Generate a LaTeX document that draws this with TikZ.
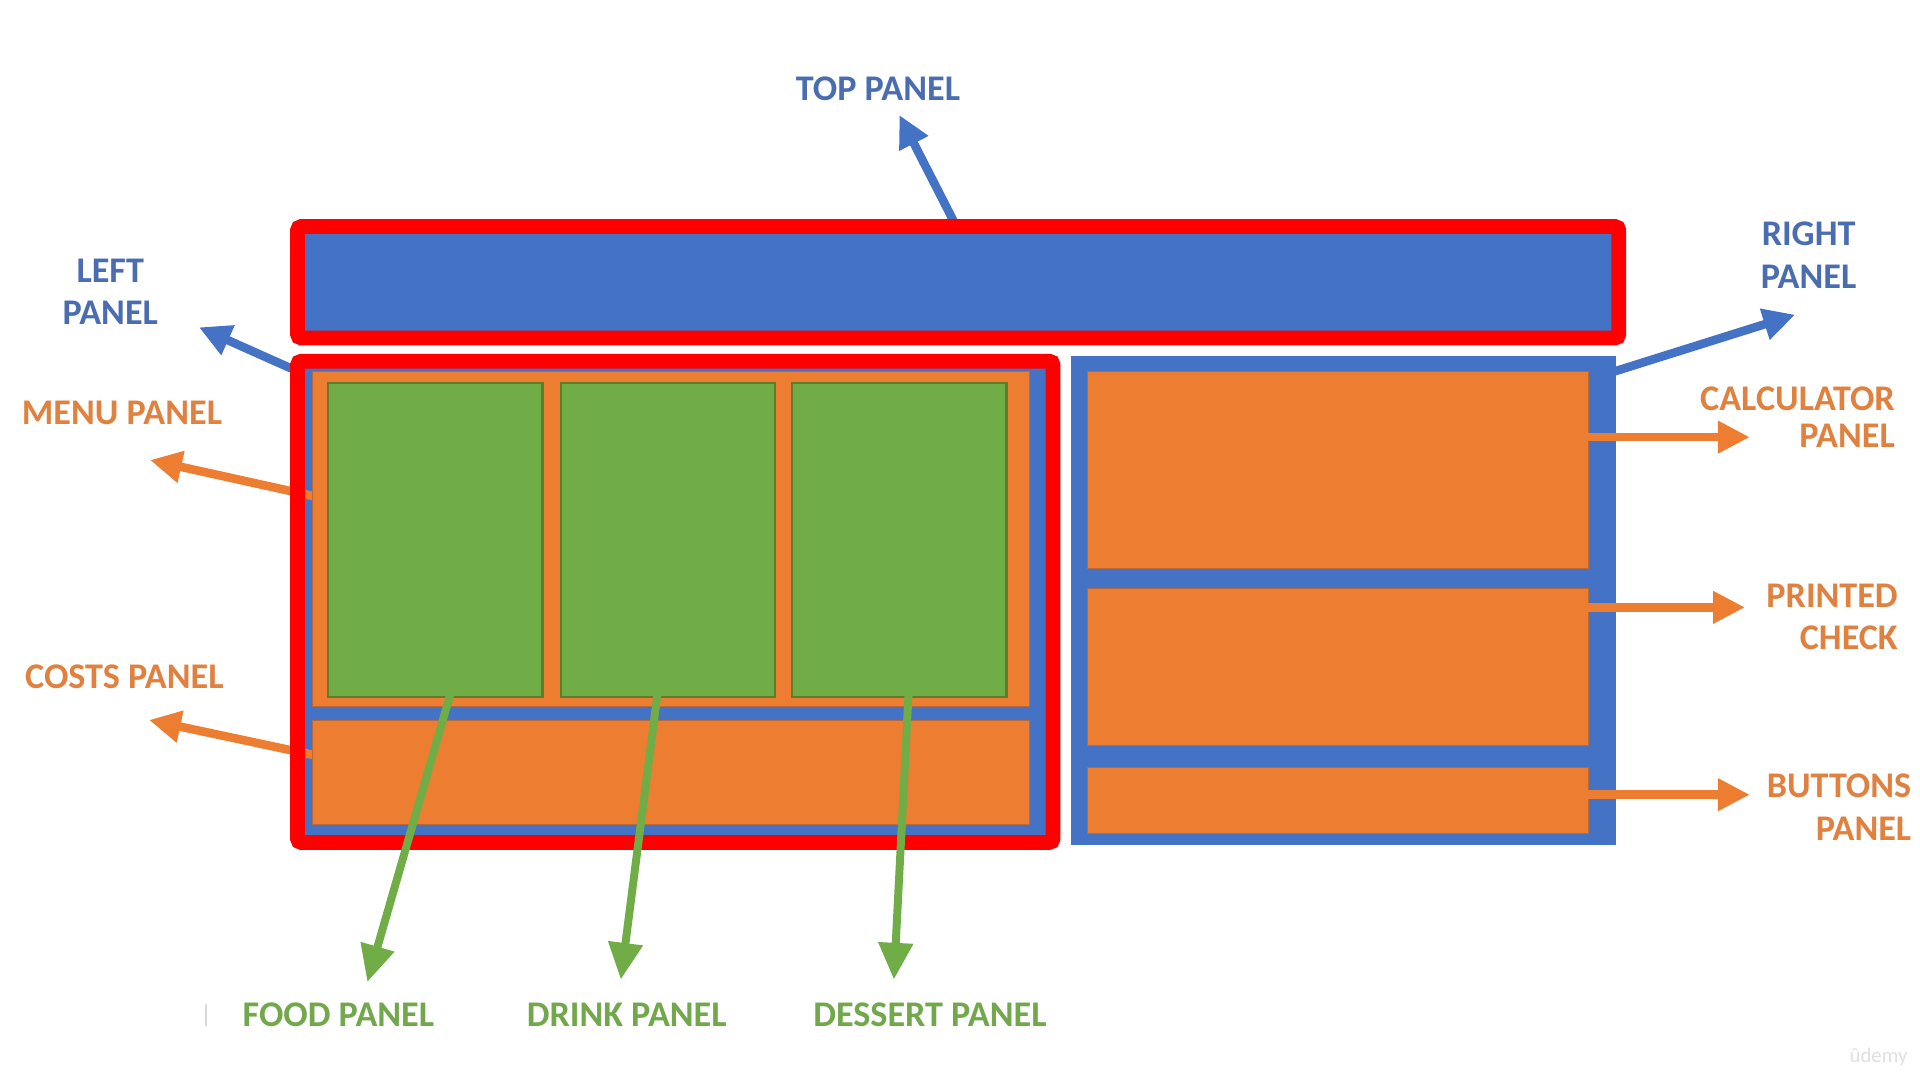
\documentclass[tikz,border=0pt]{standalone}
\usepackage{fontspec}
\setmainfont{Carlito}
\usetikzlibrary{arrows.meta}
\definecolor{pblue}{HTML}{4472C4}
\definecolor{porange}{HTML}{ED7D31}
\definecolor{pgreen}{HTML}{70AD47}
\definecolor{pred}{HTML}{FF0000}
\definecolor{tblue}{HTML}{4A6DB2}
\definecolor{torange}{HTML}{E0813F}
\definecolor{tgreen}{HTML}{72A84C}
\definecolor{gborder}{HTML}{5F7E2C}
\definecolor{oborder}{HTML}{B8693C}
\tikzset{
  lbl/.style={font=\fontsize{29.5}{35}\selectfont\bfseries, inner sep=0pt},
  redframe/.style={draw=pred, line width=12pt, rounded corners=3pt},
  opanel/.style={draw=oborder, line width=0.8pt, fill=porange},
  gpanel/.style={draw=gborder, line width=1.8pt, fill=pgreen},
  barrow/.style={draw=pblue, line width=7pt, -{Triangle[length=26pt,width=25pt]}},
  oarrow/.style={draw=porange, line width=7pt, -{Triangle[length=26pt,width=25pt]}},
  garrow/.style={draw=pgreen, line width=6.5pt, -{Triangle[length=30pt,width=27pt]}}
}
\begin{document}
\begin{tikzpicture}[x=1pt,y=-1pt]
\useasboundingbox (0,0) rectangle (1568,882);
\fill[white] (0,0) rectangle (1568,882);

% coordinates for connectors
\coordinate (topS) at (778.5,180);
\coordinate (topT) at (734.5,94);
\coordinate (leftS) at (238,301);
\coordinate (leftT) at (162.5,267.3);
\coordinate (rightS) at (1318,303.5);
\coordinate (rightT) at (1466,257);
\coordinate (menuS) at (258,405.6);
\coordinate (menuT) at (122.5,375.7);
\coordinate (costS) at (256,616.6);
\coordinate (costT) at (121.7,588);
\coordinate (calcS) at (1296,357);
\coordinate (calcT) at (1429,357);
\coordinate (prS) at (1296,496);
\coordinate (prT) at (1425,496);
\coordinate (btS) at (1296,649);
\coordinate (btT) at (1429,649);
\coordinate (foodS) at (368,566);
\coordinate (foodT) at (300,802);
\coordinate (drinkS) at (537,566);
\coordinate (drinkT) at (507,800);
\coordinate (dessS) at (742,566);
\coordinate (dessT) at (730,800);

% top panel
\fill[pblue] (243,185) rectangle (1322,276);
\draw[barrow] (topS) -- (topT);
\draw[redframe] (243,185) rectangle (1322,276);

% left panel
\fill[pblue] (243,295) rectangle (860,688);
\draw[barrow] (leftS) -- (leftT);
\draw[oarrow] (menuS) -- (menuT);
\draw[oarrow] (costS) -- (costT);
\draw[redframe] (243,295) rectangle (860,688);
\draw[opanel] (255,303) rectangle (841,577);
\draw[gpanel] (268,313) rectangle (443,569);
\draw[gpanel] (458,313) rectangle (633,569);
\draw[gpanel] (647,313) rectangle (822,569);
\draw[opanel] (255,588) rectangle (841,673);

% right panel
\fill[pblue] (875,291) rectangle (1320,690);
\draw[opanel] (888,303) rectangle (1297,464);
\draw[opanel] (888,481) rectangle (1297,609);
\draw[opanel] (888,627) rectangle (1297,681);
\draw[barrow] (rightS) -- (rightT);
\draw[oarrow] (calcS) -- (calcT);
\draw[oarrow] (prS) -- (prT);
\draw[oarrow] (btS) -- (btT);

% green connectors
\draw[garrow] (foodS) -- (foodT);
\draw[garrow] (drinkS) -- (drinkT);
\draw[garrow] (dessS) -- (dessT);

% labels
\node[lbl, text=tblue, anchor=base] (ltop) at (717,81.7) {TOP PANEL};
\node[lbl, text=tblue, anchor=north, align=center] (lleft) at (90,211) {LEFT\\PANEL};
\node[lbl, text=tblue, anchor=north, align=center] (lright) at (1477,181) {RIGHT\\PANEL};
\node[lbl, text=torange, anchor=base west] (lmenu) at (17.7,347) {MENU PANEL};
\node[lbl, text=torange, anchor=base west] (lcost) at (20.4,562) {COSTS PANEL};
\node[lbl, text=torange, anchor=north east, align=right, font=\fontsize{29.5}{30}\selectfont\bfseries] (lcalc) at (1547.6,315.8) {CALCULATOR\\PANEL};
\node[lbl, text=torange, anchor=north east, align=right] (lprint) at (1550,476.4) {PRINTED\\CHECK};
\node[lbl, text=torange, anchor=north east, align=right] (lbut) at (1561,631.5) {BUTTONS\\PANEL};
\node[lbl, text=tgreen, anchor=base west] (lfood) at (198,838) {FOOD PANEL};
\node[lbl, text=tgreen, anchor=base west] (ldrink) at (430,838) {DRINK PANEL};
\node[lbl, text=tgreen, anchor=base west] (ldess) at (664,838) {DESSERT PANEL};

% small artifacts
\draw[black!15, line width=1.5pt] (168.5,820) -- (168.5,838);
\node[font=\fontsize{17}{20}\selectfont, text=black!12, anchor=base east, inner sep=0pt] (wm) at (1558,868) {ûdemy};
\end{tikzpicture}
\end{document}
